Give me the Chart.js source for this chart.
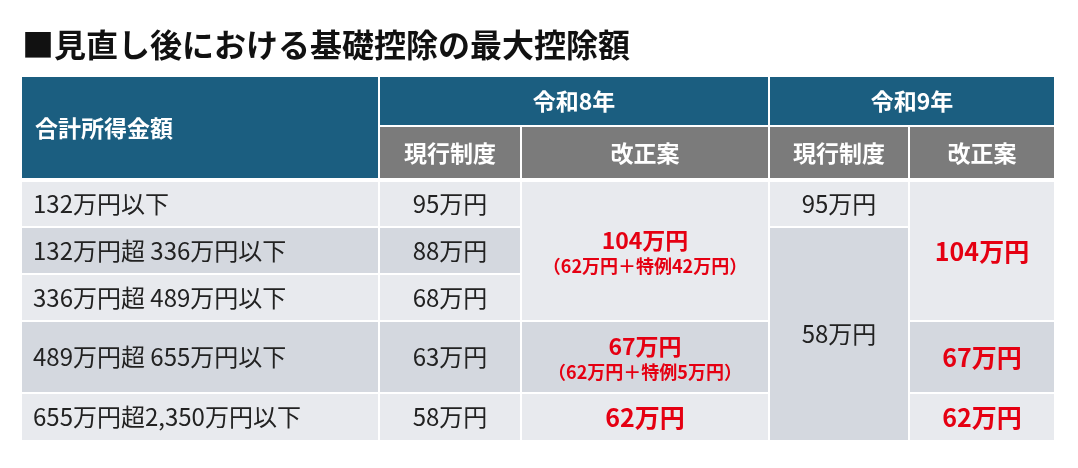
<!DOCTYPE html>
<html><head><meta charset="utf-8">
<script src="https://cdn.jsdelivr.net/npm/chart.js@4"></script>
<style>html,body{margin:0;background:#fff}#wrap{width:1078px;height:468px}</style>
</head><body><div id="wrap"><canvas id="c"></canvas></div>
<script>
// data
const title = "■見直し後における基礎控除の最大控除額";
const yearHeaders = ["令和8年", "令和9年"];
const subHeaders = ["現行制度", "改正案", "現行制度", "改正案"];
const incomeLabel = "合計所得金額";
const incomeRanges = ["132万円以下", "132万円超 336万円以下", "336万円超 489万円以下", "489万円超 655万円以下", "655万円超2,350万円以下"];
const current8 = ["95万円", "88万円", "68万円", "63万円", "58万円"];
const reform8 = [["104万円", "（62万円＋特例42万円）", 0, 3], ["67万円", "（62万円＋特例5万円）", 3, 4], ["62万円", "", 4, 5]];
const current9 = [["95万円", 0, 1], ["58万円", 1, 5]];
const reform9 = [["104万円", 0, 3], ["67万円", 3, 4], ["62万円", 4, 5]];

// layout (pixels)
const colX = [[22, 378], [380, 520], [522, 768], [770, 908], [910, 1054]];
const rowY = [[182, 226], [228, 273], [275, 320], [322, 392], [394, 440]];
const BLUE = "#1b5e80", GRAY = "#7b7b7b", LIGHT = "#e8eaee", DARK = "#d4d8df", RED = "#e50012";
const FONT = "'Noto Sans CJK JP', 'Noto Sans', sans-serif";

const tablePlugin = {
  id: "table",
  afterDraw(chart) {
    const ctx = chart.ctx, xs = chart.scales.x, ys = chart.scales.y;
    const px = v => xs.getPixelForValue(v), py = v => ys.getPixelForValue(v);
    function rect(x0, x1, y0, y1, fill) {
      ctx.fillStyle = fill;
      ctx.fillRect(px(x0), py(y0), px(x1) - px(x0), py(y1) - py(y0));
    }
    function text(s, x, y, color, size, weight, align) {
      ctx.fillStyle = color;
      ctx.font = (weight || "normal") + " " + size + "px " + FONT;
      ctx.textAlign = align || "center";
      ctx.textBaseline = "middle";
      ctx.fillText(s, px(x), py(y));
    }
    const shade = i => (i % 2 ? DARK : LIGHT);
    ctx.save();
    text(title, 22, 45, "#111", 32, "bold", "left");
    // header
    rect(22, 378, 77, 178, BLUE);
    text(incomeLabel, 35, 128, "#fff", 23, "bold", "left");
    rect(380, 768, 77, 125, BLUE);
    rect(770, 1054, 77, 125, BLUE);
    text(yearHeaders[0], 574, 101, "#fff", 23, "bold");
    text(yearHeaders[1], 912, 101, "#fff", 23, "bold");
    subHeaders.forEach((s, i) => {
      const c = colX[i + 1];
      rect(c[0], c[1], 127, 178, GRAY);
      text(s, (c[0] + c[1]) / 2, 153, "#fff", 23, "bold");
    });
    // body
    incomeRanges.forEach((s, i) => {
      const r = rowY[i];
      rect(colX[0][0], colX[0][1], r[0], r[1], shade(i));
      text(s, 33, (r[0] + r[1]) / 2, "#222", 24, "normal", "left");
      rect(colX[1][0], colX[1][1], r[0], r[1], shade(i));
      text(current8[i], (colX[1][0] + colX[1][1]) / 2, (r[0] + r[1]) / 2, "#222", 24);
    });
    reform8.forEach(([a, b, r0, r1]) => {
      const y0 = rowY[r0][0], y1 = rowY[r1 - 1][1], c = colX[2], cx = (c[0] + c[1]) / 2;
      rect(c[0], c[1], y0, y1, shade(r0));
      if (b) {
        text(a, cx, (y0 + y1) / 2 - 11, RED, 23, "bold");
        text(b, cx, (y0 + y1) / 2 + 15, RED, 18, "bold");
      } else text(a, cx, (y0 + y1) / 2, RED, 25, "bold");
    });
    current9.forEach(([a, r0, r1]) => {
      const y0 = rowY[r0][0], y1 = rowY[r1 - 1][1], c = colX[3];
      rect(c[0], c[1], y0, y1, r1 - r0 > 1 ? DARK : LIGHT);
      text(a, (c[0] + c[1]) / 2, r1 - r0 > 1 ? 334 : (y0 + y1) / 2, "#222", 24);
    });
    reform9.forEach(([a, r0, r1]) => {
      const y0 = rowY[r0][0], y1 = rowY[r1 - 1][1], c = colX[4];
      rect(c[0], c[1], y0, y1, shade(r0));
      text(a, (c[0] + c[1]) / 2, (y0 + y1) / 2, RED, 25, "bold");
    });
    ctx.restore();
  }
};

new Chart(document.getElementById("c"), {
  type: "scatter",
  data: { datasets: [{ data: [] }] },
  options: {
    responsive: true, maintainAspectRatio: false, animation: false,
    layout: { padding: 0 },
    plugins: { legend: { display: false }, tooltip: { enabled: false } },
    scales: {
      x: { type: "linear", min: 0, max: 1078, display: false },
      y: { type: "linear", min: 0, max: 468, reverse: true, display: false }
    }
  },
  plugins: [tablePlugin]
});
</script></body></html>
